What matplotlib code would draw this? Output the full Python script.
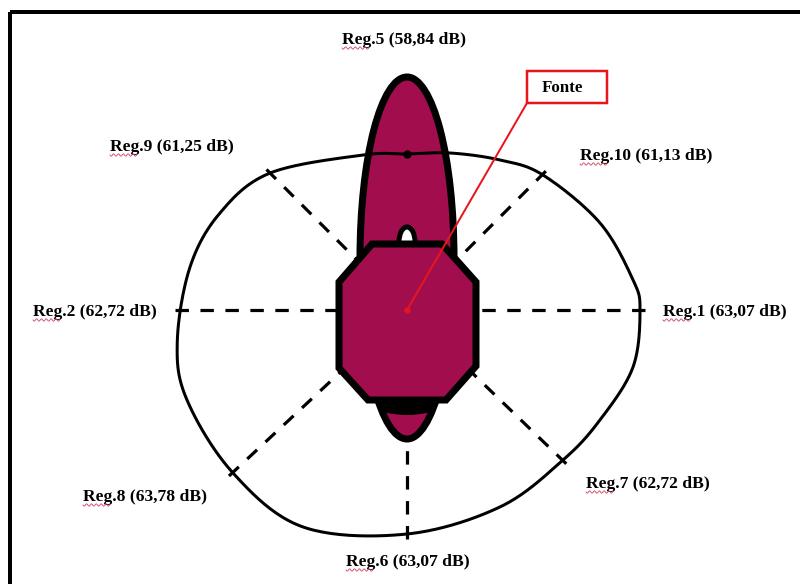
import numpy as np
import matplotlib
matplotlib.use("Agg")
import matplotlib.pyplot as plt
from matplotlib.patches import Ellipse, Polygon, Rectangle

# dados das regiões de medição
regioes = ['Reg.1', 'Reg.2', 'Reg.5', 'Reg.6', 'Reg.7', 'Reg.8', 'Reg.9', 'Reg.10']
niveis_db = [63.07, 62.72, 58.84, 63.07, 62.72, 63.78, 61.25, 61.13]
angulos = [0, 180, 90, 270, 316, 223, 135, 45]  # direção de cada região (graus)

# contorno da área (ângulo em graus, raio em pixels a partir da fonte)
contorno_ang = [90, 74.7, 58.2, 44.8, 24.3, 7.6, 0, -14.2, -29.7, -43.9, -64.7, -90,
                -115.6, -136.9, -157.8, -172, -191.2, -207.4, -225, -254.2]
contorno_r = [156, 162.8, 176.5, 191.6, 211.7, 228.0, 233, 233.1, 222.1, 216.4, 217.8, 224,
              240.6, 238.4, 237.7, 232, 221.2, 210.7, 193.7, 161.1]

# posição dos rótulos (canto esquerdo, centro vertical)
rotulo_pos = {'Reg.1': (663, 312), 'Reg.2': (33, 312), 'Reg.5': (342, 40),
              'Reg.6': (346, 562), 'Reg.7': (586, 484), 'Reg.8': (83, 497),
              'Reg.9': (110, 147), 'Reg.10': (580, 156)}

CX, CY = 407, 310
PX = 0.72  # 1 pixel em pontos (dpi 100)
VINHO = '#a10d4d'
VERMELHO = '#e8161c'
FONTE = dict(family='Liberation Serif', weight='bold', size=12.6)


def polar(ang, r):
    a = np.radians(ang)
    return CX + r * np.cos(a), CY - r * np.sin(a)


def spline_fechada(px, py, n=24):
    """Catmull-Rom fechada"""
    P = np.column_stack([px, py])
    m = len(P)
    t = np.linspace(0, 1, n, endpoint=False)[:, None]
    partes = []
    for i in range(m):
        p0, p1, p2, p3 = P[i - 1], P[i], P[(i + 1) % m], P[(i + 2) % m]
        partes.append(0.5 * (2 * p1 + (-p0 + p2) * t + (2 * p0 - 5 * p1 + 4 * p2 - p3) * t**2
                             + (-p0 + 3 * p1 - 3 * p2 + p3) * t**3))
    c = np.vstack(partes)
    return np.append(c[:, 0], c[0, 0]), np.append(c[:, 1], c[0, 1])


def raio_contorno(ang):
    a = np.mod(np.array(contorno_ang), 360)
    r = np.array(contorno_r)
    idx = np.argsort(a)
    a, r = a[idx], r[idx]
    return np.interp(ang % 360, np.r_[a - 360, a, a + 360], np.r_[r, r, r])


fig = plt.figure(figsize=(8, 5.84), dpi=100)
ax = fig.add_axes([0, 0, 1, 1])
ax.set_xlim(0, 800)
ax.set_ylim(584, 0)
ax.axis('off')

# moldura
ax.add_patch(Rectangle((10, 12), 820, 600, fill=False, ec='black', lw=4 * PX))

# contorno
ox, oy = polar(np.array(contorno_ang), np.array(contorno_r))
sx, sy = spline_fechada(ox, oy)
ax.plot(sx, sy, color='black', lw=3 * PX, zorder=5)
ax.plot(CX, CY - contorno_r[0], 'o', color='black', ms=5, zorder=5)

# linhas tracejadas até cada região
for ang in angulos:
    r = raio_contorno(ang)
    x0, y0 = polar(ang, r + 5)
    ax.plot([x0, CX], [y0, CY], color='black', lw=3.2 * PX, ls=(0, (4.2, 3.6)), zorder=2)

# padrão de emissão da fonte
ax.add_patch(Ellipse((407, 258), 94, 362, fc=VINHO, ec='black', lw=7 * PX, zorder=3))
ax.add_patch(Ellipse((407, 407), 58, 16, fc='black', ec='none', zorder=3.2))
ax.add_patch(Ellipse((407, 242), 16, 30, fc='white', ec='black', lw=5 * PX, zorder=3.3))
octogono = [(372, 244), (442, 244), (476, 282), (476, 366), (446, 400),
            (368, 400), (339, 368), (339, 282)]
ax.add_patch(Polygon(octogono, closed=True, fc=VINHO, ec='black', lw=7 * PX,
                     joinstyle='miter', zorder=4))

# indicação da fonte
ax.add_patch(Rectangle((527, 71), 80, 32, fill=False, ec=VERMELHO, lw=2.5 * PX, zorder=6))
ax.text(562, 88, 'Fonte', ha='center', va='center', zorder=6,
        **{**FONTE, 'size': 12.2})
ax.plot([527, CX], [103, CY], color=VERMELHO, lw=2 * PX, zorder=6)
ax.plot(CX, CY, 'o', color=VERMELHO, ms=3.5, zorder=6)

# rótulos
for nome, nivel in zip(regioes, niveis_db):
    x, y = rotulo_pos[nome]
    txt = f"{nome} ({nivel:.2f} dB)".replace(f"{nivel:.2f}", f"{nivel:.2f}".replace('.', ','))
    ax.text(x, y, txt, ha='left', va='center', zorder=7, **FONTE)
    # sublinhado ondulado do corretor
    wx = np.linspace(x, x + 27, 40)
    ax.plot(wx, y + 8 + 1.2 * np.sin((wx - x) * 1.3), color='#d04060', lw=0.6, zorder=7)

fig.savefig('out.png', dpi=100)
